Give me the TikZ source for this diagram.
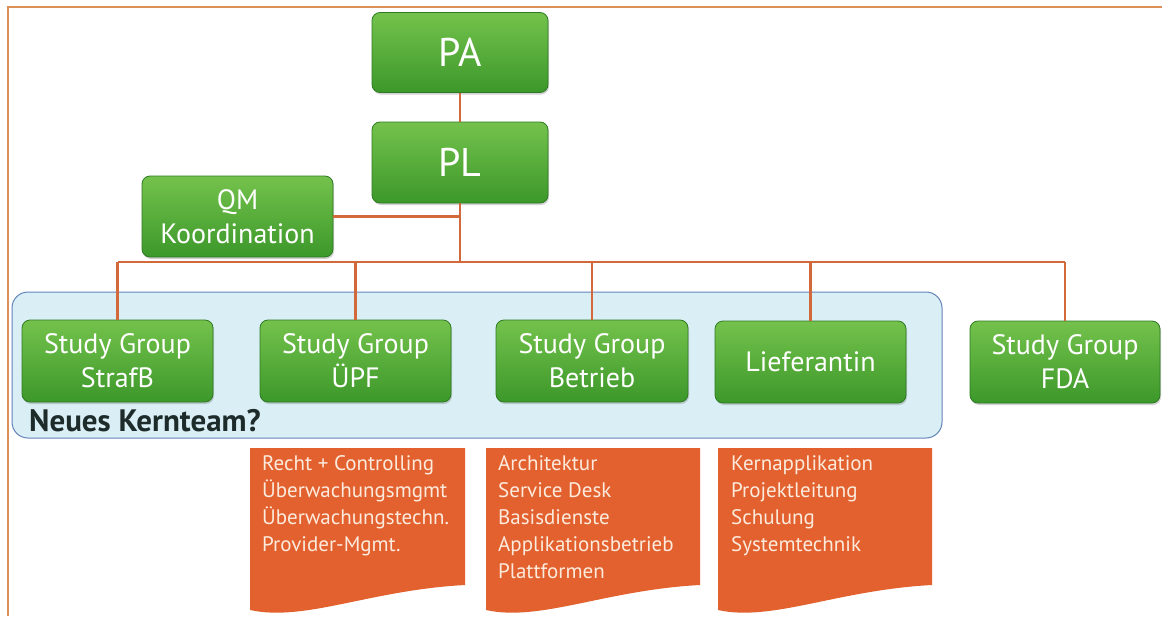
\documentclass[tikz,border=0pt]{standalone}
\usepackage{fontspec}
\setmainfont{PT Sans}
\usetikzlibrary{shadows}
\definecolor{gTop}{HTML}{74C24C}
\definecolor{gBot}{HTML}{3C982A}
\definecolor{gEdge}{HTML}{2E7A22}
\definecolor{conn}{HTML}{D2693A}
\definecolor{frameC}{HTML}{DC9058}
\definecolor{teamFill}{HTML}{D9EFF5}
\definecolor{teamEdge}{HTML}{6382BA}
\definecolor{docC}{HTML}{E2612F}
\definecolor{docText}{HTML}{FCEBDD}
\definecolor{kernC}{HTML}{1E2B2B}
\begin{document}
\begin{tikzpicture}[x=1pt,y=-1pt,
  gbox/.style={draw=gEdge, line width=0.8pt, rounded corners=8pt,
    top color=gTop, bottom color=gBot, text=white, align=center,
    inner sep=0pt, minimum width=191pt, minimum height=82pt,
    font=\fontsize{28}{34}\selectfont,
    drop shadow={shadow xshift=1pt, shadow yshift=-2pt, opacity=0.35}},
  bigbox/.style={gbox, minimum width=176pt, minimum height=80pt,
    font=\fontsize{40}{44}\selectfont},
  connector/.style={draw=conn, line width=2.2pt},
  teambox/.style={draw=teamEdge, line width=1pt, fill=teamFill,
    rounded corners=16pt, inner sep=0pt},
  doctext/.style={text=docText, align=left, inner sep=0pt,
    font=\fontsize{21}{27}\selectfont},
  frameline/.style={draw=frameC, line width=1.2pt}
]
\useasboundingbox (0,0) rectangle (1162,616);
\fill[white] (0,0) rectangle (1162,616);
% outer frame (cut by the picture edges)
\draw[frameline] (8,616) -- (8,7) -- (1162,7);

% team area
\node[teambox, minimum width=930pt, minimum height=146pt] (team) at (477,365) {};
\node[anchor=base west, inner sep=0pt, text=kernC,
  font=\fontsize{31}{34}\selectfont\bfseries] (kern) at (29,431) {Neues Kernteam?};

% green boxes
\node[bigbox] (pa) at (460,52.5) {PA};
\node[bigbox, minimum height=81pt] (pl) at (460,162.5) {PL};
\node[gbox, minimum height=81pt] (qm) at (237.5,216.5) {QM\\Koordination};
\node[gbox] (sgA) at (117.5,361) {Study Group\\StrafB};
\node[gbox] (sgB) at (355.5,361) {Study Group\\ÜPF};
\node[gbox, minimum width=192pt] (sgC) at (592,361) {Study Group\\Betrieb};
\node[gbox] (sgD) at (810.5,362) {Lieferantin};
\node[gbox, minimum width=190pt] (sgE) at (1065,362) {Study Group\\FDA};

% connectors
\coordinate (bar) at (460,262);
\draw[connector] (pa.south) -- (pl.north);
\draw[connector] (pl.south) -- (bar);
\draw[connector] (qm.east) -- (qm.east -| pl.south);
\draw[connector] (sgA.north |- bar) -- (sgE.north |- bar);
\foreach \n in {sgA,sgB,sgC,sgD,sgE}
  \draw[connector] (\n.north |- bar) -- (\n.north);

% document shapes
\fill[docC] (250,448) -- (465,448) -- (465,585)
  .. controls (370,590) and (305,622) .. (250,610) -- cycle;
\fill[docC] (486,448) -- (700,448) -- (700,585)
  .. controls (605,590) and (540,622) .. (486,610) -- cycle;
\fill[docC] (718,448) -- (932,448) -- (932,585)
  .. controls (837,590) and (772,622) .. (718,610) -- cycle;
\node[doctext, anchor=north west] (docA) at (262,455)
  {Recht + Controlling\\Überwachungsmgmt\\Überwachungstechn.\\Provider-Mgmt.};
\node[doctext, anchor=north west] (docB) at (498,455)
  {Architektur\\Service Desk\\Basisdienste\\Applikationsbetrieb\\Plattformen};
\node[doctext, anchor=north west] (docC) at (731,455)
  {Kernapplikation\\Projektleitung\\Schulung\\Systemtechnik};
\end{tikzpicture}
\end{document}
